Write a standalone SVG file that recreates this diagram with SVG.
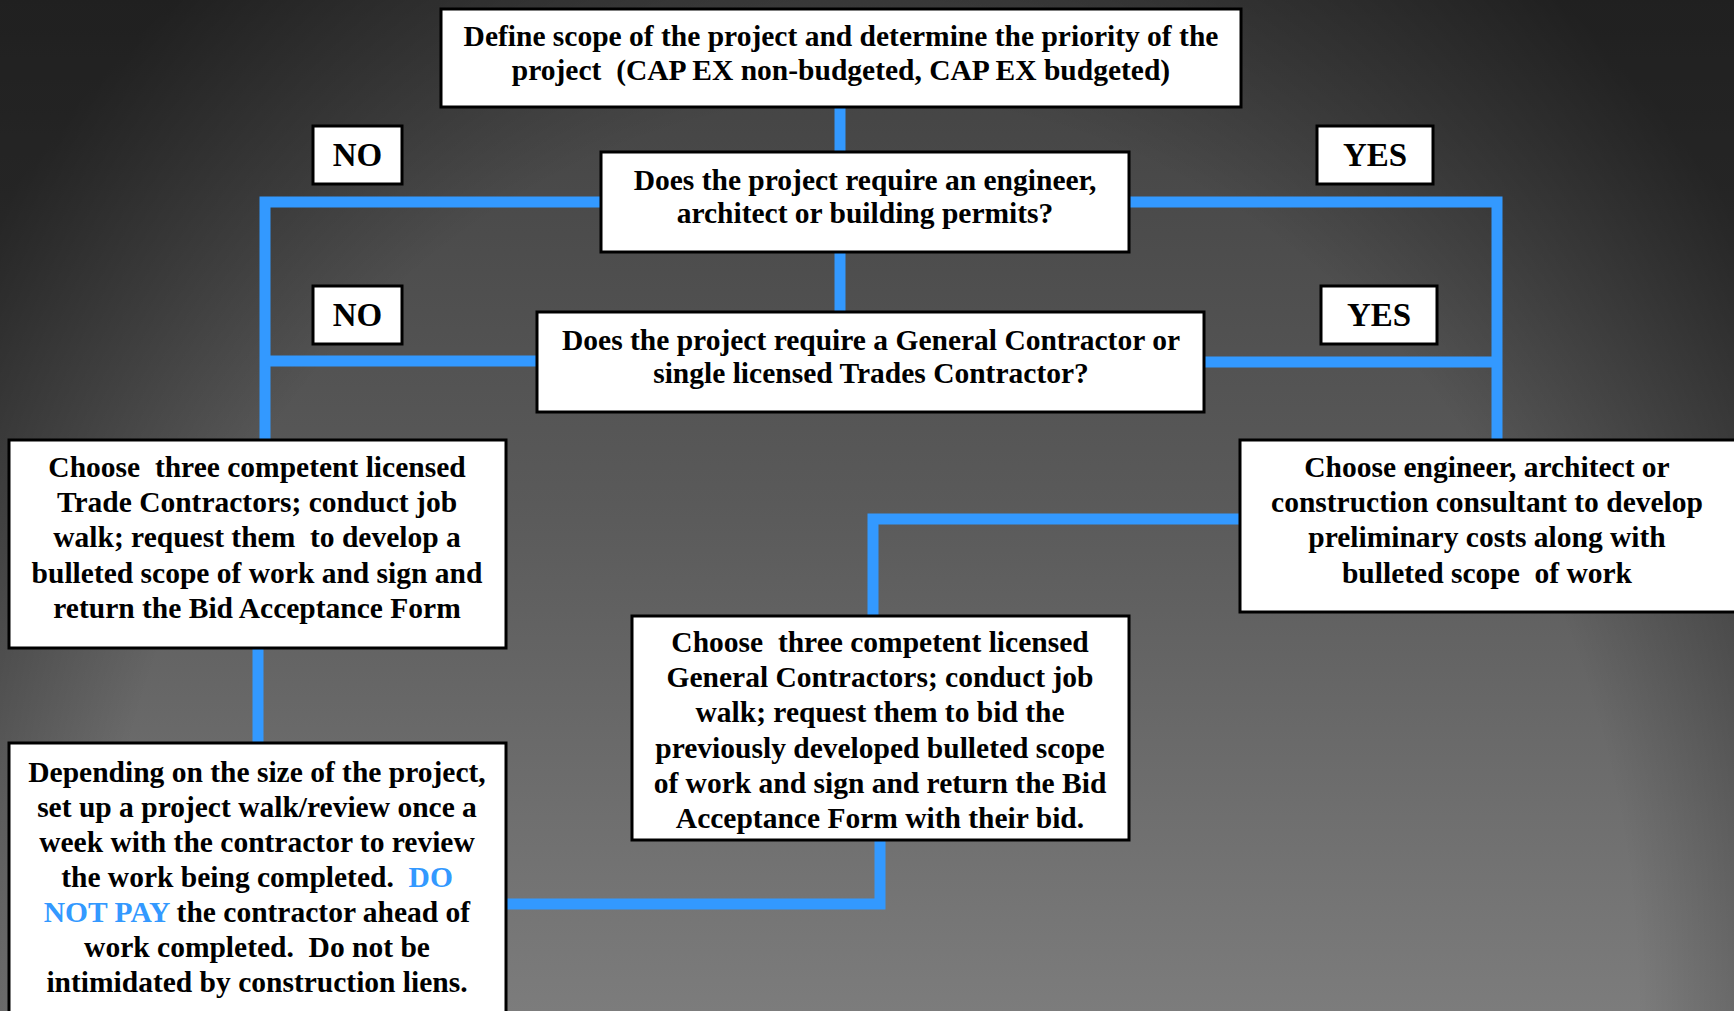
<svg xmlns="http://www.w3.org/2000/svg" width="1734" height="1011" viewBox="0 0 1734 1011">
<defs>
<linearGradient id="bg" x1="0" y1="0" x2="0" y2="1">
<stop offset="0" stop-color="#404040"/>
<stop offset="0.5" stop-color="#5a5a5a"/>
<stop offset="1" stop-color="#7c7c7c"/>
</linearGradient>
<radialGradient id="vig" cx="0" cy="0" r="1" gradientUnits="userSpaceOnUse" gradientTransform="translate(867 1011) scale(1100 1300)">
<stop offset="0.72" stop-color="#000" stop-opacity="0"/>
<stop offset="1.0" stop-color="#000" stop-opacity="0.45"/>
</radialGradient>
<radialGradient id="vig2" cx="0" cy="0" r="1" gradientUnits="userSpaceOnUse" gradientTransform="translate(867 1011) scale(1100 1300)">
<stop offset="0" stop-color="#000" stop-opacity="0"/>
<stop offset="0.7" stop-color="#000" stop-opacity="0"/>
<stop offset="1" stop-color="#000" stop-opacity="0.5"/>
</radialGradient>
</defs>
<style>
.box{fill:#fff;stroke:#000;stroke-width:3}
.t{font-family:"Liberation Serif","Times New Roman",serif;font-weight:bold;font-size:29.5px;fill:#000;text-anchor:middle;white-space:pre}
.lbl{font-size:33px}
.blue{fill:#3399ff}
.c{fill:none;stroke:#3399ff;stroke-width:11;stroke-linejoin:miter;stroke-linecap:butt}
</style>
<rect x="0" y="0" width="1734" height="1011" fill="url(#bg)"/>
<rect x="0" y="0" width="1734" height="1011" fill="url(#vig2)"/>

<g id="connectors">
<path class="c" d="M840 107V152"/>
<path class="c" d="M840 252V312"/>
<path class="c" d="M601 202H265V440"/>
<path class="c" d="M537 361H265"/>
<path class="c" d="M1128 202H1497V440"/>
<path class="c" d="M1204 362H1497"/>
<path class="c" d="M258 648V743"/>
<path class="c" d="M506 904H880V840"/>
<path class="c" d="M1240 519H873V616"/>
</g>

<g id="define">
<rect class="box" x="441" y="9" width="800" height="98"/>
<text class="t" x="841" y="46">Define scope of the project and determine the priority of the</text>
<text class="t" x="841" y="80">project  (CAP EX non-budgeted, CAP EX budgeted)</text>
</g>

<g id="q-engineer">
<rect class="box" x="601" y="152" width="528" height="100"/>
<text class="t" x="865" y="190">Does the project require an engineer,</text>
<text class="t" x="865" y="223">architect or building permits?</text>
</g>

<g id="q-contractor">
<rect class="box" x="537" y="312" width="667" height="100"/>
<text class="t" x="871" y="350">Does the project require a General Contractor or</text>
<text class="t" x="871" y="383">single licensed Trades Contractor?</text>
</g>

<g id="no1">
<rect class="box" x="313" y="126" width="89" height="58"/>
<text class="t lbl" x="357.5" y="166">NO</text>
</g>
<g id="no2">
<rect class="box" x="313" y="286" width="89" height="58"/>
<text class="t lbl" x="357.5" y="326">NO</text>
</g>
<g id="yes1">
<rect class="box" x="1317" y="126" width="116" height="58"/>
<text class="t lbl" x="1375" y="166">YES</text>
</g>
<g id="yes2">
<rect class="box" x="1321" y="286" width="116" height="58"/>
<text class="t lbl" x="1379" y="326">YES</text>
</g>

<g id="trade">
<rect class="box" x="9" y="440" width="497" height="208"/>
<text class="t" x="257" y="477">Choose  three competent licensed</text>
<text class="t" x="257" y="512">Trade Contractors; conduct job</text>
<text class="t" x="257" y="547">walk; request them  to develop a</text>
<text class="t" x="257" y="583">bulleted scope of work and sign and</text>
<text class="t" x="257" y="618">return the Bid Acceptance Form</text>
</g>

<g id="engineer">
<rect class="box" x="1240" y="440" width="510" height="172"/>
<text class="t" x="1487" y="477">Choose engineer, architect or</text>
<text class="t" x="1487" y="512">construction consultant to develop</text>
<text class="t" x="1487" y="547">preliminary costs along with</text>
<text class="t" x="1487" y="583">bulleted scope  of work</text>
</g>

<g id="general">
<rect class="box" x="632" y="616" width="497" height="224"/>
<text class="t" x="880" y="652">Choose  three competent licensed</text>
<text class="t" x="880" y="687">General Contractors; conduct job</text>
<text class="t" x="880" y="722">walk; request them to bid the</text>
<text class="t" x="880" y="758">previously developed bulleted scope</text>
<text class="t" x="880" y="793">of work and sign and return the Bid</text>
<text class="t" x="880" y="828">Acceptance Form with their bid.</text>
</g>

<g id="review">
<rect class="box" x="9" y="743" width="497" height="290"/>
<text class="t" x="257" y="782">Depending on the size of the project,</text>
<text class="t" x="257" y="817">set up a project walk/review once a</text>
<text class="t" x="257" y="852">week with the contractor to review</text>
<text class="t" x="257" y="887">the work being completed.  <tspan class="blue">DO</tspan></text>
<text class="t" x="257" y="922"><tspan class="blue">NOT PAY</tspan> the contractor ahead of</text>
<text class="t" x="257" y="957">work completed.  Do not be</text>
<text class="t" x="257" y="992">intimidated by construction liens.</text>
</g>
</svg>
